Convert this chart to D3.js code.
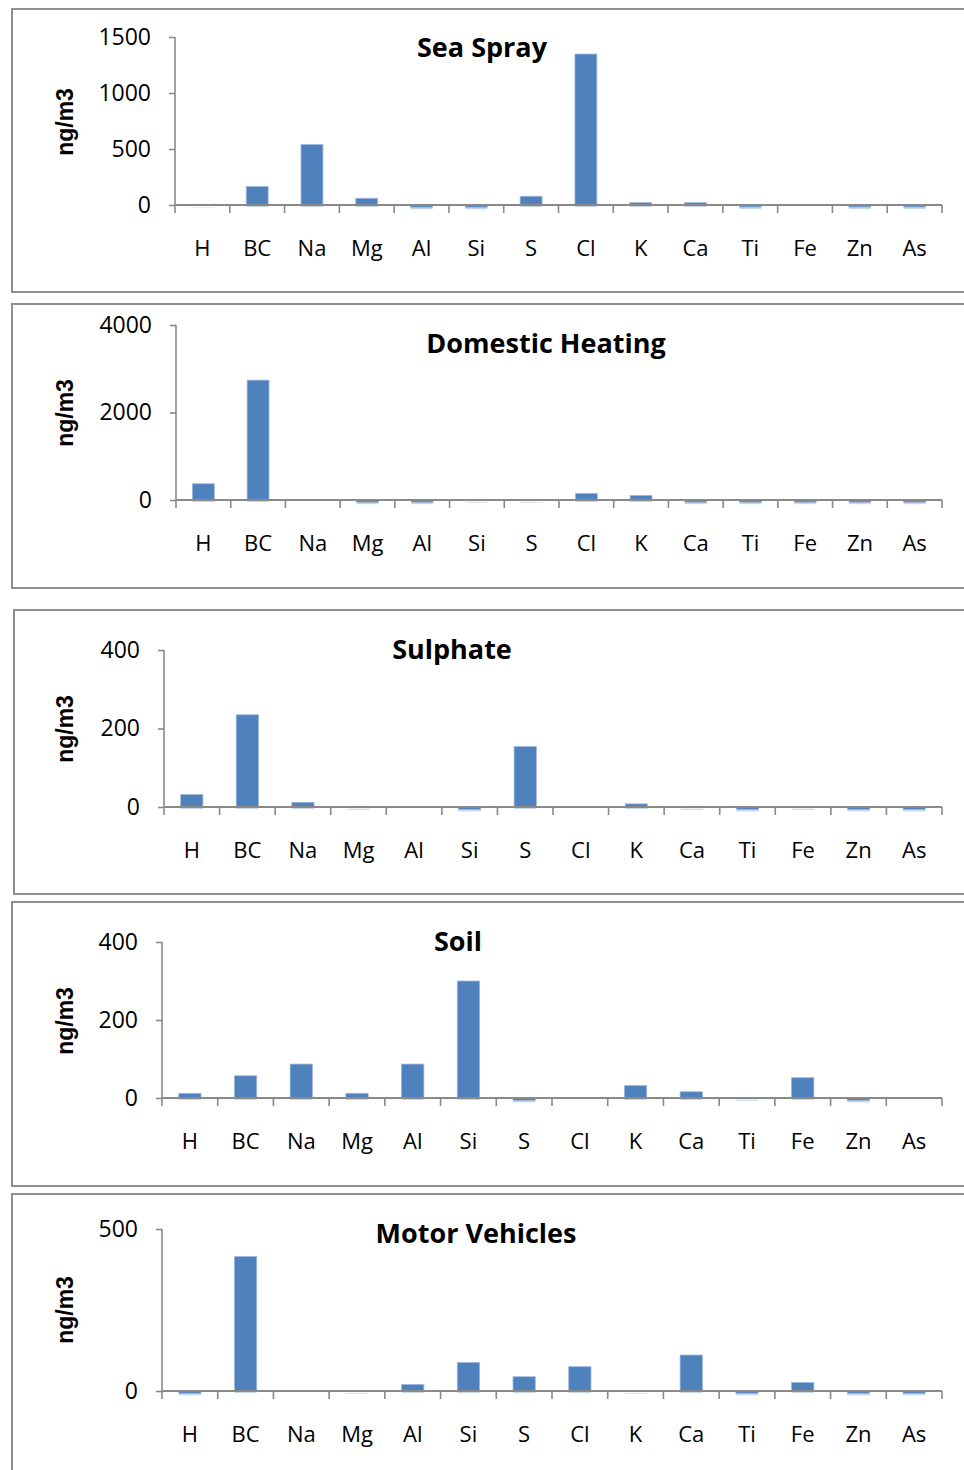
<!DOCTYPE html>
<html>
<head>
<meta charset="utf-8">
<script src="https://cdn.jsdelivr.net/npm/d3@7"></script>
<style>
  html, body { margin: 0; padding: 0; background: #fff; }
  svg { display: block; }
</style>
</head>
<body>
<svg id="chart" width="964" height="1470"></svg>
<script>
// Source-profile data (ng/m3); null = no value reported
const elements = ["H", "BC", "Na", "Mg", "Al", "Si", "S", "Cl", "K", "Ca", "Ti", "Fe", "Zn", "As"];

const seaSpray        = [-3, 165, 540, 60, -20, -20, 78, 1348, 21, 21, -18, 0, -18, -18];
const domesticHeating = [372, 2740, null, -50, -50, -15, -15, 152, 106, -50, -50, -50, -50, -50];
const sulphate        = [32, 235, 12, -2, null, -6, 154, null, 8, -2, -6, -2, -6, -6];
const soil            = [12, 57, 87, 12, 87, 300, -6, null, 32, 16, -2, 52, -6, null];
const motorVehicles   = [-7, 415, null, -2, 20, 88, 44, 75, -2, 111, -7, 26, -7, -7];

const seaSprayTicks        = [0, 500, 1000, 1500];
const domesticHeatingTicks = [0, 2000, 4000];
const sulphateTicks        = [0, 200, 400];
const soilTicks            = [0, 200, 400];
const motorVehiclesTicks   = [0, 500];

const panelTitles = ["Sea Spray", "Domestic Heating", "Sulphate", "Soil", "Motor Vehicles"];
const unitLabel = "ng/m3";

// Panel geometry (frame box, plot area, title anchor)
const panels = [
  { title: panelTitles[0], values: seaSpray,        ticks: seaSprayTicks,
    box: [12, 9, 292],    axisX: 175, yTop: 37,   y0: 205,  titleX: 482, titleY: 57,   unitY: 122 },
  { title: panelTitles[1], values: domesticHeating, ticks: domesticHeatingTicks,
    box: [12, 304, 588],  axisX: 176, yTop: 325,  y0: 500,  titleX: 546, titleY: 353,  unitY: 413 },
  { title: panelTitles[2], values: sulphate,        ticks: sulphateTicks,
    box: [14, 610, 894],  axisX: 164, yTop: 650,  y0: 807,  titleX: 452, titleY: 659,  unitY: 729 },
  { title: panelTitles[3], values: soil,            ticks: soilTicks,
    box: [12, 902, 1186], axisX: 162, yTop: 942,  y0: 1098, titleX: 458, titleY: 951,  unitY: 1021 },
  { title: panelTitles[4], values: motorVehicles,   ticks: motorVehiclesTicks,
    box: [12, 1194, 1480], axisX: 162, yTop: 1229, y0: 1391, titleX: 476, titleY: 1243, unitY: 1310 }
];

const axisRight = 942;
const barColor = "#4f81bd";
const axisColor = "#898989";
const labelFont = "'Open Sans', 'Noto Sans', sans-serif";

const svg = d3.select("#chart");

panels.forEach(p => {
  const g = svg.append("g");
  const [bx, by, bb] = p.box;

  // frame
  g.append("rect")
    .attr("x", bx).attr("y", by)
    .attr("width", 980 - bx).attr("height", bb - by)
    .attr("fill", "#fff")
    .attr("stroke", "#8e8e8e").attr("stroke-width", 2);

  const x = d3.scaleBand().domain(elements).range([p.axisX, axisRight]).paddingInner(0.6).paddingOuter(0.3);
  const xCat = d3.scaleBand().domain(elements).range([p.axisX, axisRight]);
  const yMax = d3.max(p.ticks);
  const y = d3.scaleLinear().domain([0, yMax]).range([p.y0, p.yTop]);

  const data = elements.map((e, i) => ({ e, v: p.values[i] })).filter(d => d.v !== null);

  // light shadow under each bar
  g.append("g").selectAll("rect").data(data).join("rect")
    .attr("x", d => x(d.e))
    .attr("y", d => Math.min(y(d.v), y(0)) + 2)
    .attr("width", x.bandwidth())
    .attr("height", d => Math.abs(y(d.v) - y(0)))
    .attr("fill", "#c5d5ea");

  // bars
  g.append("g").selectAll("rect").data(data).join("rect")
    .attr("x", d => x(d.e))
    .attr("y", d => Math.min(y(d.v), y(0)))
    .attr("width", x.bandwidth())
    .attr("height", d => Math.abs(y(d.v) - y(0)))
    .attr("fill", barColor)
    .attr("stroke", "#9fb9dc").attr("stroke-width", 0.8);

  // y axis
  const yAxis = d3.axisLeft(y).tickValues(p.ticks).tickSize(6).tickPadding(18).tickFormat(d3.format("d"));
  const ya = g.append("g").attr("transform", `translate(${p.axisX},0)`).call(yAxis);
  ya.select(".domain").attr("stroke", axisColor).attr("stroke-width", 1.6)
    .attr("d", `M0,${p.yTop}V${p.y0}`);
  ya.selectAll(".tick line").attr("stroke", axisColor).attr("stroke-width", 1.6);
  ya.selectAll(".tick text")
    .attr("font-family", labelFont).attr("font-size", 23).attr("fill", "#000");

  // x axis: line at zero with ticks on category boundaries
  const xa = g.append("g");
  xa.append("line")
    .attr("x1", p.axisX).attr("x2", axisRight)
    .attr("y1", y(0)).attr("y2", y(0))
    .attr("stroke", axisColor).attr("stroke-width", 2);
  const bounds = elements.map(e => xCat(e)).concat([axisRight]);
  xa.selectAll("line.tk").data(bounds).join("line").attr("class", "tk")
    .attr("x1", d => d).attr("x2", d => d)
    .attr("y1", y(0)).attr("y2", y(0) + 8)
    .attr("stroke", axisColor).attr("stroke-width", 1.6);
  xa.selectAll("text").data(elements).join("text")
    .attr("x", d => xCat(d) + xCat.bandwidth() / 2)
    .attr("y", y(0) + 51)
    .attr("text-anchor", "middle")
    .attr("font-family", labelFont).attr("font-size", 22).attr("fill", "#000")
    .text(d => d);

  // title
  g.append("text")
    .attr("x", p.titleX).attr("y", p.titleY)
    .attr("text-anchor", "middle")
    .attr("font-family", labelFont).attr("font-weight", "bold").attr("font-size", 27)
    .attr("fill", "#000")
    .text(p.title);

  // unit label
  g.append("text")
    .attr("transform", `translate(73,${p.unitY}) rotate(-90)`)
    .attr("text-anchor", "middle")
    .attr("font-family", "'Liberation Sans', Arial, sans-serif").attr("font-weight", "bold").attr("font-size", 23)
    .attr("fill", "#000")
    .text(unitLabel);
});
</script>
</body>
</html>
